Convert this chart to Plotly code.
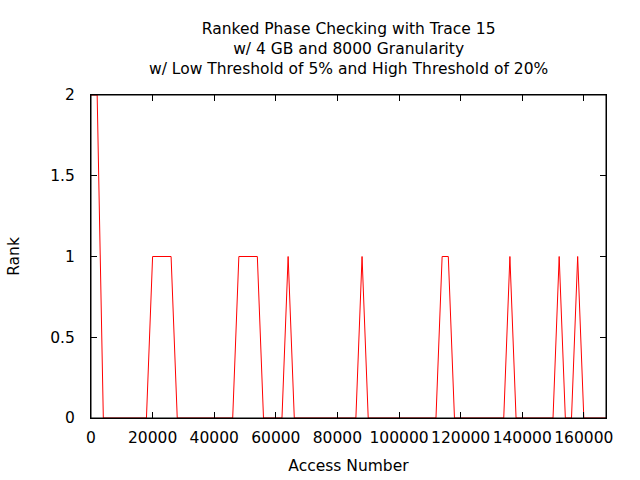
import plotly.graph_objects as go

# Data
access_number = [0, 2000, 4000, 18000, 20000, 26000, 28000, 46000, 48000, 54000, 56000,
                 62000, 64000, 66000, 86000, 88000, 90000, 112000, 114000, 116000, 118000,
                 134000, 136000, 138000, 150000, 152000, 154000, 156000, 158000, 160000, 167200]
rank = [2, 2, 0, 0, 1, 1, 0, 0, 1, 1, 0,
        0, 1, 0, 0, 1, 0, 0, 1, 1, 0,
        0, 1, 0, 0, 1, 0, 0, 1, 0, 0]

x_ticks = [0, 20000, 40000, 60000, 80000, 100000, 120000, 140000, 160000]
y_ticks = [0, 0.5, 1, 1.5, 2]
y_tick_labels = ["0", "0.5", "1", "1.5", "2"]

title_lines = ["Ranked Phase Checking with Trace 15",
               "w/ 4 GB and 8000 Granularity",
               "w/ Low Threshold of 5% and High Threshold of 20%"]

FONT = "DejaVu Sans"
fs = 15.5

fig = go.Figure()
fig.add_trace(go.Scatter(x=access_number, y=rank, mode="lines",
                         line=dict(color="#ff0000", width=1), showlegend=False))

fig.update_layout(
    width=640, height=480,
    margin=dict(l=91, r=34, t=95, b=62),
    paper_bgcolor="white", plot_bgcolor="white",
    font=dict(family=FONT, size=fs, color="black"),
)

fig.update_xaxes(
    range=[0, 167200], tickvals=x_ticks, ticktext=[str(v) for v in x_ticks],
    ticks="inside", ticklen=6, tickcolor="black", tickwidth=1, tickangle=0,
    showline=True, linecolor="black", linewidth=1, mirror="ticks",
    showgrid=False, zeroline=False, ticklabelstandoff=5, automargin=False,
    tickfont=dict(size=fs),
    title=dict(text="Access Number", standoff=14, font=dict(size=fs)),
)
fig.update_yaxes(
    range=[0, 2], tickvals=y_ticks, ticktext=y_tick_labels,
    ticks="inside", ticklen=6, tickcolor="black", tickwidth=1,
    showline=True, linecolor="black", linewidth=1, mirror="ticks",
    showgrid=False, zeroline=False, ticklabelstandoff=12, automargin=False,
    title=dict(text="Rank", standoff=26, font=dict(size=fs)),
)

# plot border drawn above the data line (as gnuplot does)
fig.add_shape(type="rect", xref="paper", yref="paper", x0=0, y0=0, x1=1, y1=1,
              line=dict(color="black", width=1), layer="above")

# three-line title, centred over the plot area
fig.add_annotation(text="<br>".join(title_lines), xref="paper", yref="paper", x=0.5,
                   y=1 + (95 - 48.5) / (480 - 95 - 62), xanchor="center", yanchor="middle",
                   showarrow=False, align="center",
                   font=dict(family=FONT, size=fs, color="black"))

fig.write_html("out.html")
